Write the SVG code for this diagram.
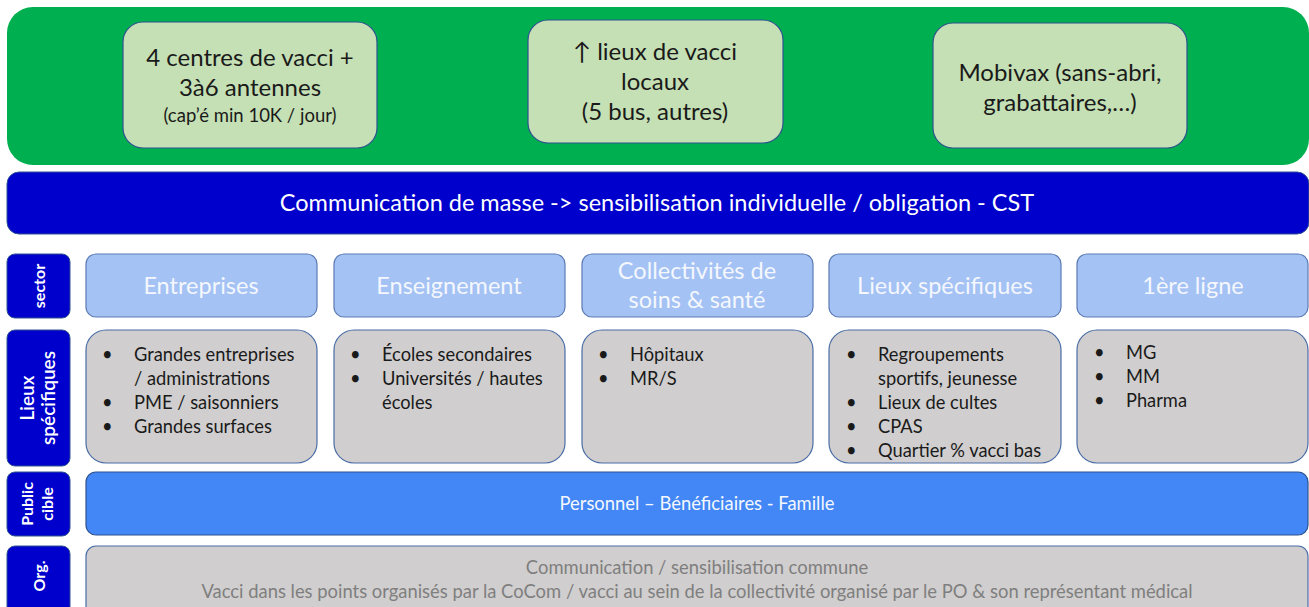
<svg xmlns="http://www.w3.org/2000/svg" width="1309" height="607" viewBox="0 0 1309 607">
<style>
text{font-family:Lato,"Open Sans","Liberation Sans",sans-serif}
.top{fill:#C5E0B4;stroke:#2F528F;stroke-width:1.2}
.tt{font-size:24px;fill:#1a1a1a;text-anchor:middle}
.lab{fill:#0000CC;stroke:#2F528F;stroke-width:1}
.labt{fill:#fff;font-size:16px;font-weight:bold;text-anchor:middle}
.sec{fill:#A4C2F4;stroke:#5B7BB4;stroke-width:1.2}
.sect{fill:#F4F7FD;font-size:23.5px;text-anchor:middle}
.lieu{fill:#D0CECE;stroke:#4A6DA7;stroke-width:1.2}
.lt{font-size:18.3px;fill:#1a1a1a}
</style>
<g id="top-band">
<rect x="7" y="7" width="1302" height="158" rx="26" fill="#00B050"/>
</g>
<g id="centres">
<rect class="top" x="123" y="22" width="254" height="126" rx="20"/>
<text class="tt" x="250" y="66">4 centres de vacci +</text>
<text class="tt" x="250" y="96">3à6 antennes</text>
<text class="tt" x="250" y="122" style="font-size:18.5px">(cap’é min 10K / jour)</text>
</g>
<g id="lieux-locaux">
<rect class="top" x="528" y="20" width="255" height="123" rx="20"/>
<text class="tt" x="655" y="60">↑ lieux de vacci</text>
<text class="tt" x="655" y="90">locaux</text>
<text class="tt" x="655" y="120">(5 bus, autres)</text>
</g>
<g id="mobivax">
<rect class="top" x="933" y="23" width="254" height="125" rx="20"/>
<text class="tt" x="1060" y="81">Mobivax (sans-abri,</text>
<text class="tt" x="1060" y="111">grabattaires,…)</text>
</g>
<g id="communication">
<rect x="7" y="172" width="1302" height="62" rx="12" fill="#0000CC" stroke="#2F528F"/>
<text x="657" y="211" fill="#fff" font-size="23.5" text-anchor="middle">Communication de masse -&gt; sensibilisation individuelle / obligation - CST</text>
</g>
<g id="label-sector">
<rect class="lab" x="7" y="254" width="63" height="64" rx="8"/>
<text class="labt" transform="translate(45,286) rotate(-90)">sector</text>
</g>
<g id="sec-entreprises">
<rect class="sec" x="86" y="254" width="231" height="63" rx="10"/>
<text class="sect" x="201" y="294">Entreprises</text>
</g>
<g id="sec-enseignement">
<rect class="sec" x="334" y="254" width="231" height="63" rx="10"/>
<text class="sect" x="449" y="294">Enseignement</text>
</g>
<g id="sec-collectivites">
<rect class="sec" x="582" y="254" width="231" height="63" rx="10"/>
<text class="sect" x="697" y="279">Collectivités de</text>
<text class="sect" x="697" y="308">soins &amp; santé</text>
</g>
<g id="sec-lieux">
<rect class="sec" x="829" y="254" width="232" height="63" rx="10"/>
<text class="sect" x="945" y="294">Lieux spécifiques</text>
</g>
<g id="sec-1ere">
<rect class="sec" x="1077" y="254" width="231" height="63" rx="10"/>
<text class="sect" x="1193" y="294">1ère ligne</text>
</g>
<g id="label-lieux">
<rect class="lab" x="7" y="330" width="63" height="136" rx="8"/>
<text class="labt" transform="translate(34,398) rotate(-90)" style="font-size:19px;font-weight:600">Lieux</text>
<text class="labt" transform="translate(55,398) rotate(-90)" style="font-size:19px;font-weight:600">spécifiques</text>
</g>
<g id="lieux-entreprises">
<rect class="lieu" x="86" y="330" width="231" height="133" rx="20"/>
<text class="lt" x="102" y="361">•</text><text class="lt" x="134" y="361">Grandes entreprises</text>
<text class="lt" x="134" y="385">/ administrations</text>
<text class="lt" x="102" y="409">•</text><text class="lt" x="134" y="409">PME / saisonniers</text>
<text class="lt" x="102" y="433">•</text><text class="lt" x="134" y="433">Grandes surfaces</text>
</g>
<g id="lieux-enseignement">
<rect class="lieu" x="334" y="330" width="231" height="133" rx="20"/>
<text class="lt" x="350" y="361">•</text><text class="lt" x="382" y="361">Écoles secondaires</text>
<text class="lt" x="350" y="385">•</text><text class="lt" x="382" y="385">Universités / hautes</text>
<text class="lt" x="382" y="409">écoles</text>
</g>
<g id="lieux-collectivites">
<rect class="lieu" x="582" y="330" width="231" height="133" rx="20"/>
<text class="lt" x="598" y="361">•</text><text class="lt" x="630" y="361">Hôpitaux</text>
<text class="lt" x="598" y="385">•</text><text class="lt" x="630" y="385">MR/S</text>
</g>
<g id="lieux-specifiques">
<rect class="lieu" x="829" y="330" width="232" height="133" rx="20"/>
<text class="lt" x="846" y="361">•</text><text class="lt" x="878" y="361">Regroupements</text>
<text class="lt" x="878" y="385">sportifs, jeunesse</text>
<text class="lt" x="846" y="409">•</text><text class="lt" x="878" y="409">Lieux de cultes</text>
<text class="lt" x="846" y="433">•</text><text class="lt" x="878" y="433">CPAS</text>
<text class="lt" x="846" y="457">•</text><text class="lt" x="878" y="457">Quartier % vacci bas</text>
</g>
<g id="lieux-1ere">
<rect class="lieu" x="1077" y="330" width="231" height="133" rx="20"/>
<text class="lt" x="1094" y="359">•</text><text class="lt" x="1126" y="359">MG</text>
<text class="lt" x="1094" y="383">•</text><text class="lt" x="1126" y="383">MM</text>
<text class="lt" x="1094" y="407">•</text><text class="lt" x="1126" y="407">Pharma</text>
</g>
<g id="label-public">
<rect class="lab" x="7" y="472" width="63" height="64" rx="8"/>
<text class="labt" transform="translate(33,504) rotate(-90)">Public</text>
<text class="labt" transform="translate(53,504) rotate(-90)">cible</text>
</g>
<g id="public-cible">
<rect x="86" y="472" width="1222" height="63" rx="10" fill="#4287F5" stroke="#2F528F" stroke-width="1.2"/>
<text x="697" y="510" fill="#F4F7FD" font-size="18.4" text-anchor="middle">Personnel – Bénéficiaires - Famille</text>
</g>
<g id="label-org">
<rect class="lab" x="7" y="546" width="63" height="70" rx="8"/>
<text class="labt" transform="translate(45,576) rotate(-90)">Org.</text>
</g>
<g id="org">
<rect x="86" y="546" width="1222" height="70" rx="10" fill="#D0CECE" stroke="#4A6DA7" stroke-width="1.2"/>
<text x="697" y="574" fill="#7F7F7F" font-size="18.4" text-anchor="middle">Communication / sensibilisation commune</text>
<text x="697" y="598" fill="#7F7F7F" font-size="18.4" text-anchor="middle">Vacci dans les points organisés par la CoCom / vacci au sein de la collectivité organisé par le PO &amp; son représentant médical</text>
</g>
<g id="connectors"/>
</svg>
